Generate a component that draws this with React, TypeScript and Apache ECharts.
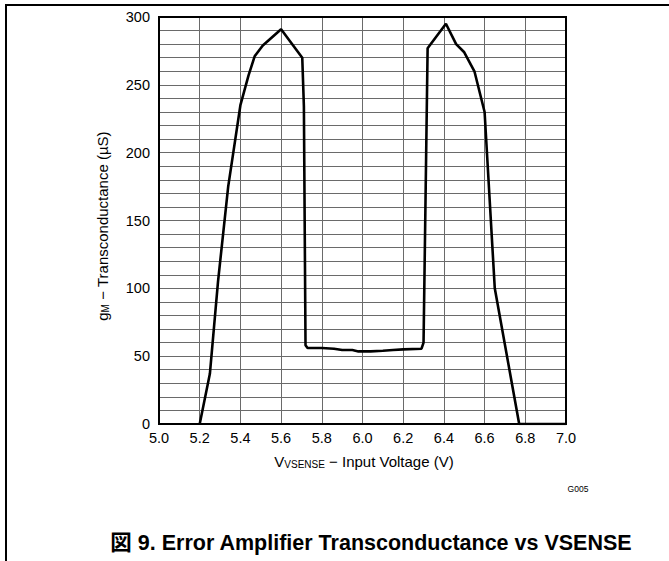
import React, { useEffect, useRef } from 'react';
import * as echarts from 'echarts';

// V_VSENSE input voltage (V)
const voltage = [
  5.2, 5.25, 5.29, 5.34, 5.4, 5.44, 5.47, 5.51, 5.6, 5.704, 5.712, 5.72, 5.73,
  5.8, 5.86, 5.9, 5.95, 5.98, 6.04, 6.1, 6.15, 6.2, 6.29, 6.3, 6.32, 6.41,
  6.46, 6.5, 6.55, 6.6, 6.65, 6.77, 7.0,
];
// gM transconductance (µS)
const transconductance = [
  0, 37, 105, 175, 235, 257, 271, 279, 291, 270, 234, 58, 56,
  56, 55.5, 54.5, 54.5, 53.5, 53.5, 54, 54.5, 55, 55.5, 60, 277, 295,
  280, 274, 260, 230, 100, 0, 0,
];

const xTitleMain = 'V';
const xTitleSub = 'VSENSE';
const xTitleRest = ' \u2212 Input Voltage (V)';
const yTitleMain = 'g';
const yTitleSub = 'M';
const yTitleRest = ' \u2212 Transconductance (\u00b5S)';
const caption = '\u56f3 9. Error Amplifier Transconductance vs VSENSE';
const graphId = 'G005';

const FONT = "'Liberation Sans', Arial, 'Noto Sans CJK JP', sans-serif";

export default function App() {
  const ref = useRef<HTMLDivElement>(null);
  useEffect(() => {
    if (!ref.current) return;
    const chart = echarts.init(ref.current, undefined, { renderer: 'svg' });
    const data = voltage.map((v, i) => [v, transconductance[i]]);
    chart.setOption({
      animation: false,
      backgroundColor: '#fff',
      grid: {
        left: 159,
        top: 17,
        right: 103,
        bottom: 137,
        show: true,
        borderColor: '#000',
        borderWidth: 2,
        z: 5,
      },
      xAxis: {
        type: 'value',
        min: 5,
        max: 7,
        interval: 0.2,
        axisLine: { show: true, lineStyle: { color: '#000', width: 2 } },
        axisTick: { show: false },
        axisLabel: {
          color: '#000',
          fontSize: 14.5,
          fontFamily: FONT,
          margin: 7,
          formatter: (v: number) => v.toFixed(1),
        },
        splitLine: { show: true, lineStyle: { color: '#6a6a6a', width: 1 } },
      },
      yAxis: {
        type: 'value',
        min: 0,
        max: 300,
        interval: 10,
        axisLine: { show: true, lineStyle: { color: '#000', width: 2 } },
        axisTick: { show: false },
        axisLabel: {
          color: '#000',
          fontSize: 14.5,
          fontFamily: FONT,
          margin: 9,
          formatter: (v: number) => (Math.round(v) % 50 === 0 ? String(Math.round(v)) : ''),
        },
        splitLine: { show: true, lineStyle: { color: '#6a6a6a', width: 1 } },
      },
      series: [
        {
          type: 'line',
          data,
          symbol: 'none',
          lineStyle: { color: '#000', width: 2.6 },
          z: 10,
        },
      ],
      graphic: [
        {
          type: 'line',
          shape: { x1: 5, y1: 5, x2: 669, y2: 5 },
          style: { stroke: '#000', lineWidth: 2 },
        },
        {
          type: 'line',
          shape: { x1: 6, y1: 5, x2: 6, y2: 561 },
          style: { stroke: '#000', lineWidth: 2 },
        },
        {
          type: 'text',
          x: 102,
          y: 226,
          rotation: Math.PI / 2,
          style: {
            text: `{a|${yTitleMain}}{b|${yTitleSub}}{a|${yTitleRest}}`,
            align: 'center',
            verticalAlign: 'middle',
            fill: '#000',
            rich: {
              a: { fontSize: 15, fontFamily: FONT, fill: '#000', lineHeight: 18 },
              b: { fontSize: 10, fontFamily: FONT, fill: '#000', lineHeight: 18, padding: [6, 0, 0, 0] },
            },
          },
        },
        {
          type: 'text',
          x: 364,
          y: 461,
          style: {
            text: `{a|${xTitleMain}}{b|${xTitleSub}}{a|${xTitleRest}}`,
            align: 'center',
            verticalAlign: 'middle',
            fill: '#000',
            rich: {
              a: { fontSize: 15, fontFamily: FONT, fill: '#000', lineHeight: 18 },
              b: { fontSize: 10, fontFamily: FONT, fill: '#000', lineHeight: 18, padding: [6, 0, 0, 0] },
            },
          },
        },
        {
          type: 'text',
          x: 578,
          y: 489,
          style: {
            text: graphId,
            align: 'center',
            verticalAlign: 'middle',
            fill: '#000',
            fontSize: 8.5,
            fontFamily: FONT,
          },
        },
        {
          type: 'text',
          x: 371,
          y: 543,
          style: {
            text: caption,
            align: 'center',
            verticalAlign: 'middle',
            fill: '#000',
            fontSize: 21.5,
            fontWeight: 'bold',
            fontFamily: FONT,
          },
        },
      ],
    });
    return () => chart.dispose();
  }, []);
  return (
    <div
      ref={ref}
      style={{ position: 'fixed', left: 0, top: 0, width: 669, height: 561, background: '#fff' }}
    />
  );
}
